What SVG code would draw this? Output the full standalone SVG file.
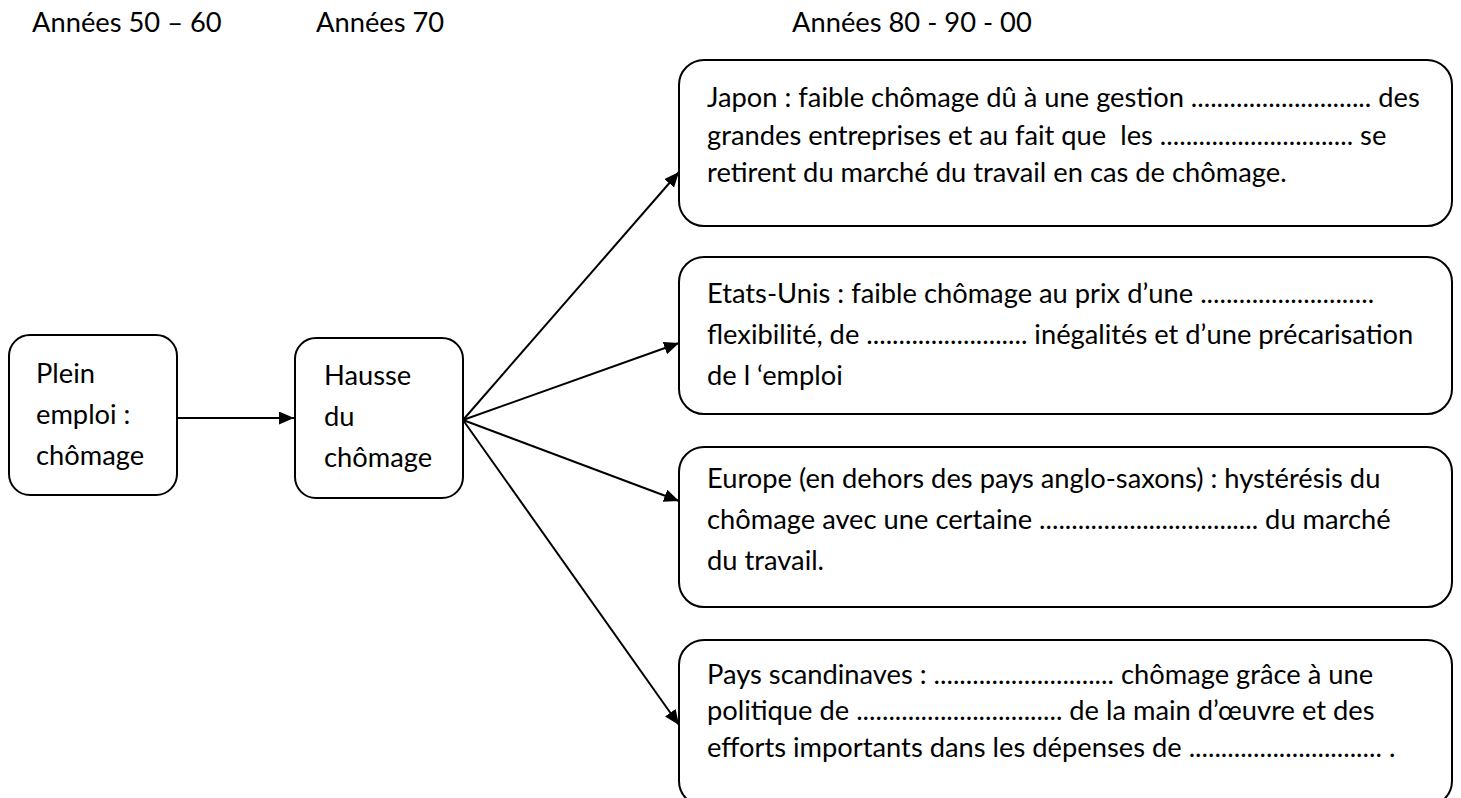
<svg xmlns="http://www.w3.org/2000/svg" width="1461" height="798" viewBox="0 0 1461 798">
  <style>
    .box { fill: #ffffff; stroke: #000000; stroke-width: 2; }
    .t { font-family: Lato, "Liberation Sans", sans-serif; font-size: 27.3px; fill: #000000; white-space: pre; }
    .conn { stroke: #000000; stroke-width: 2; fill: none; marker-end: url(#arrow); }
  </style>
  <defs>
    <marker id="arrow" markerUnits="userSpaceOnUse" markerWidth="16" markerHeight="14" refX="15" refY="6.5" orient="auto">
      <path d="M0,0 L15,6.5 L0,13 Z" fill="#000000"/>
    </marker>
  </defs>
  <rect width="1461" height="798" fill="#ffffff"/>

  <g id="headers">
    <text class="t" x="32" y="32">Années 50 – 60</text>
    <text class="t" x="316" y="32">Années 70</text>
    <text class="t" x="792" y="32">Années 80 - 90 - 00</text>
  </g>

  <g id="connectors">
    <line class="conn" x1="177" y1="418" x2="294" y2="418"/>
    <line class="conn" x1="463" y1="420" x2="679" y2="172"/>
    <line class="conn" x1="463" y1="420" x2="679" y2="343"/>
    <line class="conn" x1="463" y1="420" x2="679" y2="501"/>
    <line class="conn" x1="463" y1="420" x2="679" y2="725"/>
  </g>

  <g id="plein">
    <rect class="box" x="9" y="335" width="168" height="160" rx="21" ry="21"/>
    <text class="t" x="36" y="383">Plein</text>
    <text class="t" x="36" y="424">emploi :</text>
    <text class="t" x="36" y="465">chômage</text>
  </g>

  <g id="hausse">
    <rect class="box" x="295" y="338" width="168" height="160" rx="21" ry="21"/>
    <text class="t" x="324" y="385">Hausse</text>
    <text class="t" x="324" y="426">du</text>
    <text class="t" x="324" y="467">chômage</text>
  </g>

  <g id="japon">
    <rect class="box" x="679" y="60" width="773" height="166" rx="25" ry="25"/>
    <text class="t" x="707" y="107">Japon : faible chômage dû à une gestion ............................ des</text>
    <text class="t" x="707" y="145">grandes entreprises et au fait que  les .............................. se</text>
    <text class="t" x="707" y="182">retirent du marché du travail en cas de chômage.</text>
  </g>

  <g id="etats-unis">
    <rect class="box" x="679" y="257" width="773" height="157" rx="25" ry="25"/>
    <text class="t" x="707" y="303">Etats-Unis : faible chômage au prix d’une ...........................</text>
    <text class="t" x="707" y="344">flexibilité, de ......................... inégalités et d’une précarisation</text>
    <text class="t" x="707" y="385">de l ‘emploi</text>
  </g>

  <g id="europe">
    <rect class="box" x="679" y="447" width="773" height="160" rx="25" ry="25"/>
    <text class="t" x="707" y="488">Europe (en dehors des pays anglo-saxons) : hystérésis du</text>
    <text class="t" x="707" y="529">chômage avec une certaine .................................. du marché</text>
    <text class="t" x="707" y="570">du travail.</text>
  </g>

  <g id="scandinaves">
    <rect class="box" x="679" y="640" width="773" height="166" rx="25" ry="25"/>
    <text class="t" x="707" y="684">Pays scandinaves : ............................ chômage grâce à une</text>
    <text class="t" x="707" y="720">politique de ................................ de la main d’œuvre et des</text>
    <text class="t" x="707" y="757">efforts importants dans les dépenses de .............................. .</text>
  </g>
</svg>
